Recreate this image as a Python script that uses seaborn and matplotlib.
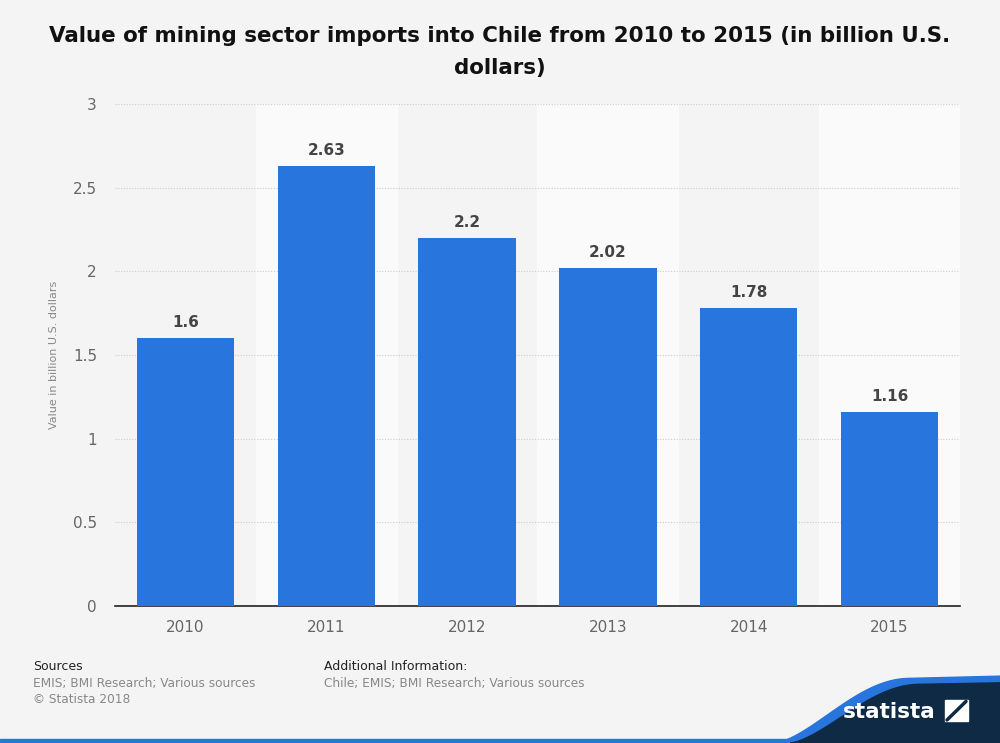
import numpy as np
import pandas as pd
import matplotlib
matplotlib.use('Agg')
import matplotlib.pyplot as plt
import seaborn as sns
from matplotlib.patches import Polygon, Rectangle

years = ['2010', '2011', '2012', '2013', '2014', '2015']
values = [1.6, 2.63, 2.2, 2.02, 1.78, 1.16]
value_labels = ['1.6', '2.63', '2.2', '2.02', '1.78', '1.16']
y_ticks = [0, 0.5, 1, 1.5, 2, 2.5, 3]
y_tick_labels = ['0', '0.5', '1', '1.5', '2', '2.5', '3']

df = pd.DataFrame({'year': years, 'value': values})

sns.set_style('white')
plt.rcParams['font.family'] = ['DejaVu Sans']

fig = plt.figure(figsize=(10, 7.43), dpi=100)
fig.patch.set_facecolor('#f4f4f4')
ax = fig.add_axes([0.115, 0.1844, 0.845, 0.6756])
ax.set_facecolor('#f4f4f4')

# alternating column bands
for i in range(len(years)):
    if i % 2 == 1:
        ax.axvspan(i - 0.5, i + 0.5, color='#fafafa', zorder=0)

sns.barplot(x='year', y='value', data=df, color='#2775dd', width=0.69,
            saturation=1, linewidth=0, ax=ax, zorder=3)

for i, v in enumerate(values):
    ax.text(i, v + 0.05, value_labels[i], ha='center', va='bottom',
            fontsize=11, fontweight='bold', color='#444444', zorder=4)

ax.set_xlim(-0.5, len(years) - 0.5)
ax.set_ylim(0, 3)
ax.set_yticks(y_ticks)
ax.set_yticklabels(y_tick_labels)
ax.yaxis.grid(True, linestyle=(0, (1, 1.5)), color='#cccccc', linewidth=0.8, zorder=1)
ax.set_axisbelow(True)
for s in ['top', 'right', 'left']:
    ax.spines[s].set_visible(False)
ax.spines['bottom'].set_color('#222222')
ax.spines['bottom'].set_linewidth(1.2)
ax.tick_params(axis='both', length=0, labelsize=11, labelcolor='#666666')
ax.tick_params(axis='x', pad=10)
ax.tick_params(axis='y', pad=13)
ax.set_xlabel('')
ax.set_ylabel('Value in billion U.S. dollars', fontsize=8, color='#888888')
ax.yaxis.set_label_coords(-0.066, 0.5)

fig.text(0.5, 0.965, 'Value of mining sector imports into Chile from 2010 to 2015 (in billion U.S.\ndollars)',
         ha='center', va='top', fontsize=15.4, fontweight='bold', color='#111111',
         linespacing=1.75)

# footer
fig.text(0.033, 0.098, 'Sources', fontsize=9, color='#222222')
fig.text(0.033, 0.076, 'EMIS; BMI Research; Various sources', fontsize=8.7, color='#888888')
fig.text(0.033, 0.054, '\u00a9 Statista 2018', fontsize=8.7, color='#888888')
fig.text(0.324, 0.098, 'Additional Information:', fontsize=9, color='#222222')
fig.text(0.324, 0.076, 'Chile; EMIS; BMI Research; Various sources', fontsize=8.7, color='#888888')

# bottom blue line
fig.patches.append(Rectangle((0, 0), 1, 0.005, transform=fig.transFigure,
                             color='#2775dd', zorder=5))

# logo shape
t = np.linspace(0, 1, 60)
xs = 0.775 + 0.135 * t
ys = 0.0 + 0.087 * np.sin(0.5 * np.pi * t) ** 1.5
curve = list(zip(xs, ys)) + [(1.0, 0.09), (1.0, 0.0)]
fig.patches.append(Polygon(curve, closed=True, transform=fig.transFigure,
                           color='#2775dd', zorder=5))
xs2 = 0.79 + 0.13 * t
ys2 = 0.0 + 0.079 * np.sin(0.5 * np.pi * t) ** 1.5
curve2 = list(zip(xs2, ys2)) + [(1.0, 0.081), (1.0, 0.0)]
fig.patches.append(Polygon(curve2, closed=True, transform=fig.transFigure,
                           color='#0e2a45', zorder=6))
fig.text(0.843, 0.042, 'statista', fontsize=15.5, fontweight='bold', color='white',
         va='center', zorder=7)
fig.patches.append(Rectangle((0.945, 0.029), 0.023, 0.029, transform=fig.transFigure,
                             color='white', zorder=7))
fig.lines.append(plt.Line2D([0.947, 0.966], [0.031, 0.056], transform=fig.transFigure,
                            color='#0e2a45', linewidth=2.5, zorder=8))

fig.savefig('out.png', dpi=100, facecolor=fig.get_facecolor())
